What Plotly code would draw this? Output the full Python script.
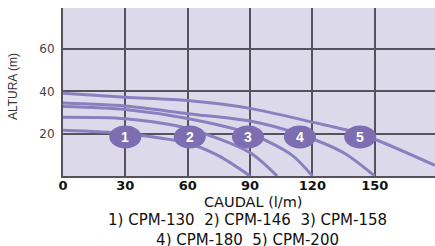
import plotly.graph_objects as go

# Data
models = ["CPM-130", "CPM-146", "CPM-158", "CPM-180", "CPM-200"]
q1 = [0, 30, 60, 75, 90]
h1 = [21.6, 20.0, 15.5, 9.5, 0.0]
q2 = [0, 30, 60, 90, 103]
h2 = [27.8, 27.1, 22.5, 11.0, 0.0]
q3 = [0, 30, 60, 90, 110, 120]
h3 = [32.9, 31.5, 27.2, 20.0, 10.0, 0.0]
q4 = [0, 30, 60, 90, 113, 135, 150]
h4 = [34.5, 33.1, 29.5, 26.0, 20.0, 11.0, 0.0]
q5 = [0, 30, 60, 90, 120, 143, 179]
h5 = [39.2, 37.3, 35.7, 32.0, 25.5, 20.0, 5.0]
badge_x = [30, 61, 89, 114, 143]
badge_y = [18.5, 18.5, 18.5, 18.5, 18.5]
badge_txt = ["1", "2", "3", "4", "5"]
x_ticks = [0, 30, 60, 90, 120, 150]
y_ticks = [20, 40, 60]

curve_color = "#8a80bf"
badge_color = "#7c6eb1"

fig = go.Figure()
for q, h, name in zip([q1, q2, q3, q4, q5], [h1, h2, h3, h4, h5], models):
    fig.add_trace(go.Scatter(x=q, y=h, mode="lines", name=name,
                             line=dict(color=curve_color, width=3, shape="spline", smoothing=0.8),
                             showlegend=False, hoverinfo="skip"))

bw, bh = 7.7, 5.45  # half-width / half-height in data units
for bx, by, t in zip(badge_x, badge_y, badge_txt):
    fig.add_shape(type="circle", xref="x", yref="y",
                  x0=bx - bw, x1=bx + bw, y0=by - bh, y1=by + bh,
                  fillcolor=badge_color, line=dict(width=0), layer="above")
    fig.add_annotation(x=bx, y=by, text="<b>" + t + "</b>", showarrow=False,
                       font=dict(family="Liberation Sans", size=14, color="white"))

legend_text = ("1) " + models[0] + "  2) " + models[1] + "  3) " + models[2] +
               "<br>4) " + models[3] + "  5) " + models[4])

fig.add_annotation(xref="paper", yref="paper", x=0.511, y=-0.152, yanchor="middle",
                   text="CAUDAL (l/m)", showarrow=False,
                   font=dict(family="DejaVu Sans", size=14.5, color="#111"))
fig.add_annotation(xref="paper", yref="paper", x=0.497, y=-0.322, yanchor="middle",
                   text=legend_text, showarrow=False, align="center",
                   font=dict(family="DejaVu Sans", size=15, color="#111"))
fig.add_annotation(xref="paper", yref="paper", x=-0.134, y=0.53, xanchor="center", yanchor="middle",
                   text="ALTURA (m)", textangle=-90, showarrow=False,
                   font=dict(family="Liberation Sans", size=12, color="#333"))

fig.update_layout(
    width=435, height=246,
    margin=dict(l=63, r=0, t=8, b=70, autoexpand=False),
    paper_bgcolor="white", plot_bgcolor="#dcd9ea",
    xaxis=dict(range=[0, 179], tickvals=x_ticks, ticktext=["<b>%d</b>" % v for v in x_ticks],
               automargin=False,
               showgrid=True, gridcolor="#55525e", gridwidth=1.5, zeroline=False,
               showline=True, linecolor="#55525e", linewidth=2,
               tickfont=dict(family="DejaVu Sans", size=13, color="#111"),
               ticks="", ticklen=0, ticklabelstandoff=-4),
    yaxis=dict(range=[0, 79.5], tickvals=y_ticks, automargin=False,
               showgrid=True, gridcolor="#55525e", gridwidth=1.5, zeroline=False,
               showline=True, linecolor="#55525e", linewidth=2,
               tickfont=dict(family="DejaVu Sans", size=12, color="#444"),
               ticks="", ticklen=0, ticklabelstandoff=4),
)
fig.write_html("out.html", config={"displayModeBar": False},
               post_script="document.body.style.margin='0';document.body.style.overflow='hidden';")
